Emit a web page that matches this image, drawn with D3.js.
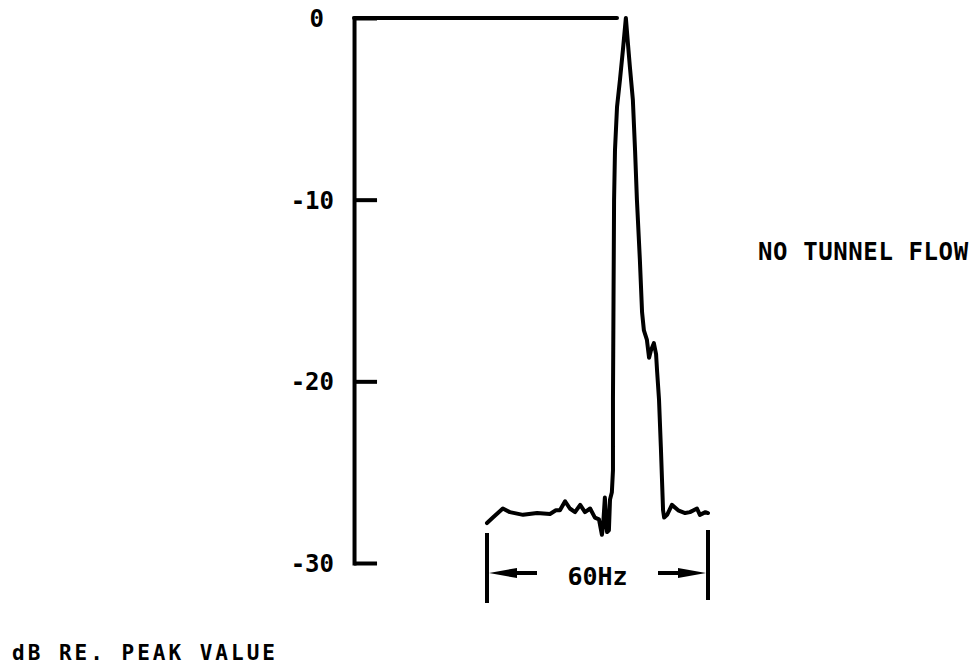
<!DOCTYPE html>
<html>
<head>
<meta charset="utf-8">
<script src="https://cdn.jsdelivr.net/npm/d3@7"></script>
<style>
  html, body { margin: 0; padding: 0; background: #fff; }
  svg { display: block; }
  text { font-family: "DejaVu Sans Mono", monospace; fill: #000; }
</style>
</head>
<body>
<svg id="chart" width="978" height="671"></svg>
<script>
// ---- data (frequency in Hz relative to left bracket, level in dB re. peak) ----
const freqHz = [
  0, 1.6, 4.3, 6.2, 9.8, 13.6, 17.1, 18.7, 19.8, 21.2, 22.5, 23.9, 25.3, 26.6, 28.0,
  29.3, 30.4, 31.2, 31.5, 32.0, 32.6, 33.1, 33.4, 33.9, 34.2, 34.2, 34.35, 34.5, 34.75,
  35.3, 36.1, 36.9, 37.7, 38.3, 38.8, 39.6, 40.2, 40.7, 41.5, 42.1, 42.6, 43.4, 44.0,
  44.5, 45.3, 45.9, 46.2, 46.7, 47.2, 47.8, 48.1, 48.9, 50.2, 51.9, 53.8, 55.1, 57.0,
  57.8, 59.3, 60.0
];
const levelDb = [
  -27.8, -27.5, -27.0, -27.2, -27.35, -27.25, -27.3, -27.1, -27.1, -26.6, -27.0, -27.2, -26.8, -27.2, -27.0,
  -27.5, -27.6, -28.45, -28.0, -26.4, -28.3, -28.2, -26.5, -26.1, -24.9, -21.0, -15.5, -10.0, -7.26,
  -4.9, -3.4, -1.76, 0, -1.5, -2.7, -4.5, -7.3, -10.0, -13.3, -16.2, -17.2, -17.7, -18.7,
  -18.3, -17.9, -18.5, -19.5, -21.0, -23.6, -27.1, -27.5, -27.35, -26.8, -27.1, -27.25, -27.2, -27.0,
  -27.35, -27.2, -27.25
];
const yTicks = [0, -10, -20, -30];
const bracketHz = [0, 60];
const bracketLabel = "60Hz";
const axisHz = -36.1;        // where the level axis stands
const refLineEndHz = 35.3;   // end of the 0 dB reference line
const yAxisTitle = "dB RE. PEAK VALUE";
const noteText = "NO TUNNEL FLOW";

// ---- scales ----
const x = d3.scaleLinear().domain([0, 60]).range([487, 708]);
const y = d3.scaleLinear().domain([0, -30]).range([18, 563]);

const svg = d3.select("#chart");
const SW = 4;

// level axis
const axis = d3.axisLeft(y)
  .tickValues(yTicks)
  .tickFormat(d => String(d))
  .tickSize(-23)
  .tickSizeOuter(0)
  .tickPadding(20);
const gA = svg.append("g")
  .attr("transform", `translate(${x(axisHz)},0)`)
  .call(axis);
gA.select(".domain").attr("stroke", "#000").attr("stroke-width", SW).attr("stroke-linecap", "square");
gA.selectAll(".tick line").attr("stroke", "#000").attr("stroke-width", SW);
gA.selectAll(".tick text")
  .attr("font-family", "DejaVu Sans Mono")
  .attr("font-size", 24)
  .attr("font-weight", "bold")
  .attr("fill", "#000")
  .attr("dy", "0.36em")
  .attr("dx", d => d === 0 ? -10 : 0);

// 0 dB reference line
svg.append("line")
  .attr("x1", x(axisHz)).attr("x2", x(refLineEndHz))
  .attr("y1", y(0)).attr("y2", y(0))
  .attr("stroke", "#000").attr("stroke-width", SW).attr("stroke-linecap", "round");

// spectrum trace
const pts = freqHz.map((f, i) => [f, levelDb[i]]);
svg.append("path")
  .datum(pts)
  .attr("d", d3.line().x(d => x(d[0])).y(d => y(d[1])))
  .attr("fill", "none")
  .attr("stroke", "#000")
  .attr("stroke-width", SW)
  .attr("stroke-linejoin", "round")
  .attr("stroke-linecap", "round");

// 60 Hz bracket
const yb0 = y(-30) - 30, yb1 = y(-30) + 40, ya = y(-30) + 10;
bracketHz.forEach((f, i) => {
  svg.append("line")
    .attr("x1", x(f)).attr("x2", x(f))
    .attr("y1", yb0 + (i ? -3 : 0)).attr("y2", yb1 + (i ? -3 : 0))
    .attr("stroke", "#000").attr("stroke-width", SW);
});
const xl = x(bracketHz[0]), xr = x(bracketHz[1]);
// left arrow
svg.append("line").attr("x1", xl + 20).attr("x2", xl + 50).attr("y1", ya).attr("y2", ya)
  .attr("stroke", "#000").attr("stroke-width", SW);
svg.append("path")
  .attr("d", `M${xl + 2},${ya} L${xl + 30},${ya - 5} L${xl + 30},${ya + 5} Z`)
  .attr("fill", "#000");
// right arrow
svg.append("line").attr("x1", xr - 50).attr("x2", xr - 20).attr("y1", ya).attr("y2", ya)
  .attr("stroke", "#000").attr("stroke-width", SW);
svg.append("path")
  .attr("d", `M${xr - 2},${ya} L${xr - 30},${ya - 5} L${xr - 30},${ya + 5} Z`)
  .attr("fill", "#000");
svg.append("text")
  .attr("x", (xl + xr) / 2).attr("y", ya + 12)
  .attr("text-anchor", "middle")
  .attr("font-size", 25)
  .attr("font-weight", "bold")
  .text(bracketLabel);

// texts
svg.append("text")
  .attr("x", 758).attr("y", 260)
  .attr("font-size", 24)
  .attr("font-weight", "bold")
  .attr("letter-spacing", 0.6)
  .text(noteText);
svg.append("text")
  .attr("x", 12).attr("y", 660)
  .attr("font-size", 21)
  .attr("font-weight", "bold")
  .attr("letter-spacing", 3)
  .text(yAxisTitle);
</script>
</body>
</html>
